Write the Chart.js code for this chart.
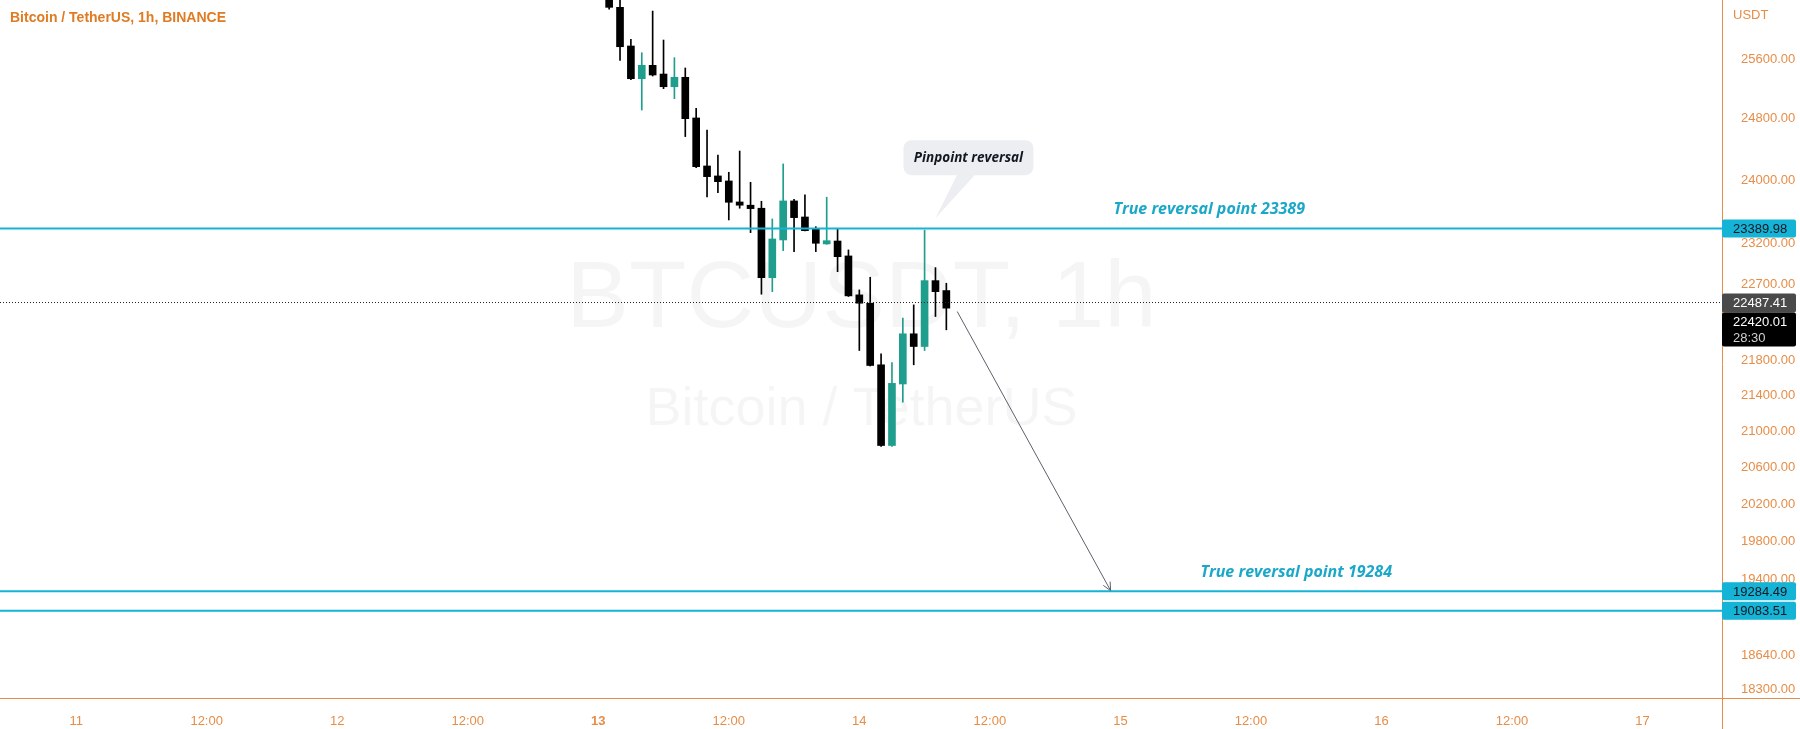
<!DOCTYPE html>
<html>
<head>
<meta charset="utf-8">
<script src="https://cdn.jsdelivr.net/npm/chart.js@4.4.0/dist/chart.umd.min.js"></script>
<style>
html, body { margin: 0; padding: 0; background: #fff; }
#wrap { width: 1800px; height: 729px; }
</style>
</head>
<body>
<div id="wrap"><canvas id="grafico" width="1800" height="729"></canvas></div>
<script>
// Velas de 1h: hora contada desde el día 11 00:00
const horas = [49, 50, 51, 52, 53, 54, 55, 56, 57, 58, 59, 60, 61, 62, 63, 64,
               65, 66, 67, 68, 69, 70, 71, 72, 73, 74, 75, 76, 77, 78, 79, 80];
const aperturas = [26480, 26314, 25778, 25333, 25514, 25396, 25225, 25352, 24809, 24183, 24055, 23991, 23724, 23683, 23645, 22787,
                   23249, 23737, 23535, 23382, 23200, 23236, 23052, 22579, 22479, 21754, 20839, 21533, 22116, 21967, 22751, 22631];
const maximos = [26600, 26450, 25870, 25686, 26262, 25860, 25618, 25478, 24937, 24651, 24324, 24102, 24376, 23974, 23733, 23510,
                 24209, 23758, 23813, 23414, 23784, 23382, 23126, 22639, 22792, 21882, 21781, 22301, 22459, 23370, 22909, 22719];
const minimos = [26290, 25580, 25320, 24914, 25369, 25199, 25065, 24564, 24160, 23787, 23842, 23498, 23645, 23340, 22587, 22618,
                 23117, 23105, 23360, 23105, 23195, 22860, 22560, 21920, 21740, 20830, 20830, 21325, 21754, 21920, 22320, 22163];
const cierres = [26314, 25768, 25333, 25514, 25383, 25225, 25352, 24800, 24174, 24046, 23982, 23720, 23683, 23640, 22787, 23261,
                 23737, 23527, 23364, 23208, 23240, 23043, 22567, 22479, 21746, 20839, 21540, 22116, 21967, 22751, 22618, 22420.01];

// Niveles horizontales y precios marcados
const niveles = [23389.98, 19284.49, 19083.51];
const ultimoPrecio = 22487.41;
const precioCierre = 22420.01;
const tiempoRestante = '28:30';

// Flecha de proyección (hora, precio)
const flechaX = [81.0, 95.1];
const flechaY = [22380, 19290];

// Etiquetas de los ejes
const valoresX = [0, 12, 24, 36, 48, 60, 72, 84, 96, 108, 120, 132, 144];
const etiquetasX = ['11', '12:00', '12', '12:00', '13', '12:00', '14', '12:00', '15', '12:00', '16', '12:00', '17'];
const valoresY = [25600, 24800, 24000, 23200, 22700, 21800, 21400, 21000, 20600, 20200, 19800, 19400, 18640, 18300];

const X_MIN = -7, X_MAX = 151.4;
const naranja = '#e68d48';
const cian = '#15b3d5';
const verde = '#1f9e8e';
const fuente = '"Liberation Sans", Arial, sans-serif';

const coloresVela = horas.map((h, i) => cierres[i] >= aperturas[i] ? verde : '#000000');

// Dibujos extra: marca de agua, textos, globo, etiquetas del eje
const pluginDibujos = {
    id: 'dibujos',
    beforeDatasetsDraw(chart) {
        const { ctx, chartArea } = chart;
        const cx = (chartArea.left + chartArea.right) / 2;
        ctx.save();
        ctx.fillStyle = 'rgba(0,0,0,0.04)';
        ctx.textAlign = 'center';
        ctx.textBaseline = 'middle';
        ctx.font = '94px ' + fuente;
        ctx.fillText('BTCUSDT, 1h', cx, 301);
        ctx.font = '54px ' + fuente;
        ctx.fillText('Bitcoin / TetherUS', cx, 410);
        ctx.restore();
    },
    afterDatasetsDraw(chart) {
        const { ctx } = chart;
        const xs = chart.scales.x, ys = chart.scales.y;
        ctx.save();

        // punta de la flecha
        const meta = chart.getDatasetMeta(chart.data.datasets.length - 1);
        const p0 = meta.data[0], p1 = meta.data[1];
        const ang = Math.atan2(p1.y - p0.y, p1.x - p0.x);
        ctx.strokeStyle = '#5d606b';
        ctx.lineWidth = 1;
        ctx.beginPath();
        ctx.moveTo(p1.x - 9 * Math.cos(ang - 0.45), p1.y - 9 * Math.sin(ang - 0.45));
        ctx.lineTo(p1.x, p1.y);
        ctx.lineTo(p1.x - 9 * Math.cos(ang + 0.45), p1.y - 9 * Math.sin(ang + 0.45));
        ctx.stroke();

        // textos de los niveles
        ctx.fillStyle = '#1ba8c8';
        ctx.font = 'italic bold 16px "Open Sans", sans-serif';
        ctx.textAlign = 'left';
        ctx.textBaseline = 'middle';
        ctx.fillText('True reversal point 23389', xs.getPixelForValue(95.36), ys.getPixelForValue(23636));
        ctx.fillText('True reversal point 19284', xs.getPixelForValue(103.36), ys.getPixelForValue(19473));

        // globo "Pinpoint reversal"
        const tx = xs.getPixelForValue(79.0), ty = ys.getPixelForValue(23520);
        const bx = tx - 32, by = ty - 78, bw = 130, bh = 35;
        ctx.fillStyle = '#eceef1';
        ctx.beginPath();
        ctx.roundRect(bx, by, bw, bh, 8);
        ctx.fill();
        ctx.beginPath();
        ctx.moveTo(tx + 22, by + bh - 1);
        ctx.lineTo(tx + 40, by + bh - 1);
        ctx.lineTo(tx, ty);
        ctx.closePath();
        ctx.fill();
        ctx.fillStyle = '#131722';
        ctx.font = 'italic bold 13.5px "Open Sans", sans-serif';
        ctx.textAlign = 'center';
        ctx.fillText('Pinpoint reversal', bx + bw / 2, by + bh / 2);
        ctx.restore();
    },
    afterDraw(chart) {
        const { ctx, chartArea } = chart;
        const ys = chart.scales.y;
        const ax = chartArea.right;
        ctx.save();

        // líneas de los ejes
        ctx.strokeStyle = naranja;
        ctx.lineWidth = 1;
        ctx.beginPath();
        ctx.moveTo(0, chartArea.bottom + 0.5);
        ctx.lineTo(chart.width, chartArea.bottom + 0.5);
        ctx.moveTo(ax - 0.5, 0);
        ctx.lineTo(ax - 0.5, chart.height);
        ctx.stroke();

        ctx.font = '13px ' + fuente;
        ctx.textAlign = 'left';
        ctx.textBaseline = 'middle';
        ctx.fillStyle = naranja;
        ctx.fillText('USDT', ax + 10, 15);

        // etiquetas de precio en el eje
        const etiqueta = (y, h, fondo) => {
            ctx.fillStyle = fondo;
            ctx.beginPath();
            ctx.roundRect(ax - 1, y, 74, h, 2);
            ctx.fill();
        };
        niveles.forEach(v => {
            const y = ys.getPixelForValue(v);
            etiqueta(y - 9, 18, cian);
            ctx.fillStyle = '#131722';
            ctx.fillText(v.toFixed(2), ax + 10, y + 1);
        });
        const yu = ys.getPixelForValue(ultimoPrecio);
        etiqueta(yu - 9, 19, '#4a4a4a');
        ctx.fillStyle = '#ffffff';
        ctx.fillText(ultimoPrecio.toFixed(2), ax + 10, yu + 1);
        etiqueta(yu + 10, 34, '#000000');
        ctx.fillStyle = '#ffffff';
        ctx.fillText(precioCierre.toFixed(2), ax + 10, yu + 20);
        ctx.fillStyle = '#d0d0d0';
        ctx.fillText(tiempoRestante, ax + 10, yu + 36);

        // título
        ctx.fillStyle = '#e07b22';
        ctx.font = 'bold 14px ' + fuente;
        ctx.fillText('Bitcoin / TetherUS, 1h, BINANCE', 10, 18);
        ctx.restore();
    }
};

const lineaHorizontal = (v, color, ancho, trazo) => ({
    type: 'line',
    data: [{ x: X_MIN, y: v }, { x: X_MAX, y: v }],
    borderColor: color,
    borderWidth: ancho,
    borderDash: trazo,
    pointRadius: 0,
    order: 0
});

const grafico = new Chart(
    document.getElementById('grafico').getContext('2d'),
    {
        type: 'bar',
        data: {
            datasets: [
                {
                    label: 'Mechas',
                    data: horas.map((h, i) => ({ x: h, y: [minimos[i], maximos[i]] })),
                    backgroundColor: coloresVela,
                    barThickness: 1,
                    grouped: false,
                    order: 3
                },
                {
                    label: 'Cuerpos',
                    data: horas.map((h, i) => ({ x: h, y: [aperturas[i], cierres[i]] })),
                    backgroundColor: coloresVela,
                    barThickness: 7,
                    minBarLength: 2,
                    grouped: false,
                    order: 2
                },
                ...niveles.map(v => lineaHorizontal(v, cian, 2, [])),
                lineaHorizontal(ultimoPrecio, '#222222', 1, [1, 2]),
                {
                    type: 'line',
                    label: 'Flecha',
                    data: flechaX.map((x, i) => ({ x: x, y: flechaY[i] })),
                    borderColor: '#5d606b',
                    borderWidth: 1,
                    pointRadius: 0,
                    order: 0
                }
            ]
        },
        options: {
            responsive: false,
            animation: false,
            layout: { padding: 0 },
            plugins: { legend: { display: false }, tooltip: { enabled: false } },
            scales: {
                x: {
                    type: 'linear',
                    position: 'bottom',
                    min: X_MIN,
                    max: X_MAX,
                    offset: false,
                    grid: { display: false },
                    border: { display: false },
                    afterBuildTicks: s => { s.ticks = valoresX.map(v => ({ value: v })); },
                    afterFit: s => { s.height = 31; s.paddingLeft = 0; s.paddingRight = 0; },
                    ticks: {
                        autoSkip: false,
                        maxRotation: 0,
                        padding: 8,
                        color: naranja,
                        font: c => ({ family: fuente, size: 13, weight: c.tick && c.tick.value === 48 ? 'bold' : 'normal' }),
                        callback: v => etiquetasX[valoresX.indexOf(v)]
                    }
                },
                y: {
                    type: 'logarithmic',
                    position: 'right',
                    min: 18218,
                    max: 26417,
                    grid: { display: false },
                    border: { display: false },
                    afterBuildTicks: s => { s.ticks = valoresY.map(v => ({ value: v })); },
                    afterFit: s => { s.width = 77; s.paddingTop = 0; s.paddingBottom = 0; },
                    ticks: {
                        autoSkip: false,
                        padding: 10,
                        color: naranja,
                        font: { family: fuente, size: 13 },
                        callback: v => v.toFixed(2)
                    }
                }
            }
        },
        plugins: [pluginDibujos]
    }
);
</script>
</body>
</html>
